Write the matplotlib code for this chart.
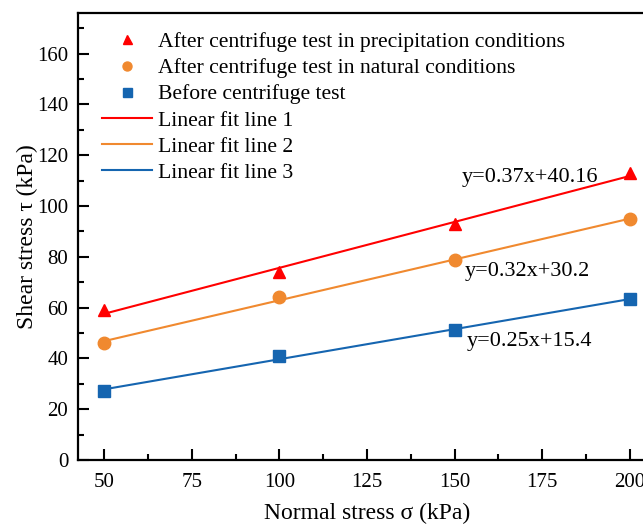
import numpy as np
import matplotlib
matplotlib.use("Agg")
import matplotlib.pyplot as plt
from matplotlib.ticker import MultipleLocator

plt.rcParams['font.family'] = ['Liberation Serif', 'DejaVu Serif']

# data
sigma = [50, 100, 150, 200]
tau_rain = [59.0, 74.0, 92.8, 113.0]
tau_natural = [46.2, 64.0, 78.6, 94.9]
tau_before = [27.2, 40.8, 51.2, 63.2]

labels = ["After centrifuge test in precipitation conditions",
          "After centrifuge test in natural conditions",
          "Before centrifuge test"]
fit_labels = ["Linear fit line 1", "Linear fit line 2", "Linear fit line 3"]
equations = ["y=0.37x+40.16", "y=0.32x+30.2", "y=0.25x+15.4"]
eq_pos = [(152, 111.3), (153, 74.1), (153.5, 46.5)]

colors = ['#FF0000', '#F0892F', '#1565B0']
markers = ['^', 'o', 's']

fig = plt.figure(figsize=(6.43, 5.25), dpi=100)
ax = fig.add_axes([78/643, 65/525, 578/643, 447/525])

series = [tau_rain, tau_natural, tau_before]
x = np.array(sigma, dtype=float)
xx = np.array([x.min(), x.max()])

pts = []
for ys, c, m, lab in zip(series, colors, markers, labels):
    p, = ax.plot(x, ys, linestyle='none', marker=m, color=c, markersize=9,
                 zorder=3, label=lab)
    pts.append(p)

fits = []
for ys, c, lab in zip(series, colors, fit_labels):
    k, b = np.polyfit(x, ys, 1)
    l, = ax.plot(xx, k * xx + b, color=c, linewidth=1.5, zorder=2, label=lab)
    fits.append(l)

for txt, (tx, ty) in zip(equations, eq_pos):
    ax.text(tx, ty, txt, fontsize=16, va='center', ha='left')

ax.set_xlim(42.5, 207.5)
ax.set_ylim(0, 176)
ax.xaxis.set_major_locator(MultipleLocator(25))
ax.xaxis.set_minor_locator(MultipleLocator(12.5))
ax.yaxis.set_major_locator(MultipleLocator(20))
ax.yaxis.set_minor_locator(MultipleLocator(10))
ax.tick_params(which='both', direction='in', labelsize=15, width=1.5)
ax.tick_params(which='major', length=8)
ax.tick_params(which='minor', length=4)
ax.tick_params(axis='x', which='major', pad=9.5)
ax.tick_params(axis='y', which='major', pad=7)
for s in ax.spines.values():
    s.set_linewidth(1.6)

ax.set_xlabel("Normal stress σ (kPa)", fontsize=17, labelpad=8)
ax.set_ylabel("Shear stress τ (kPa)", fontsize=17, labelpad=-0.5)

leg = ax.legend(handles=pts + fits, loc='upper left', frameon=False,
                fontsize=15.6, handlelength=2.3, handletextpad=0.28,
                labelspacing=0.28, borderaxespad=0.3, markerscale=0.72,
                bbox_to_anchor=(0.015, 0.992))

fig.savefig("out.png", dpi=100)
